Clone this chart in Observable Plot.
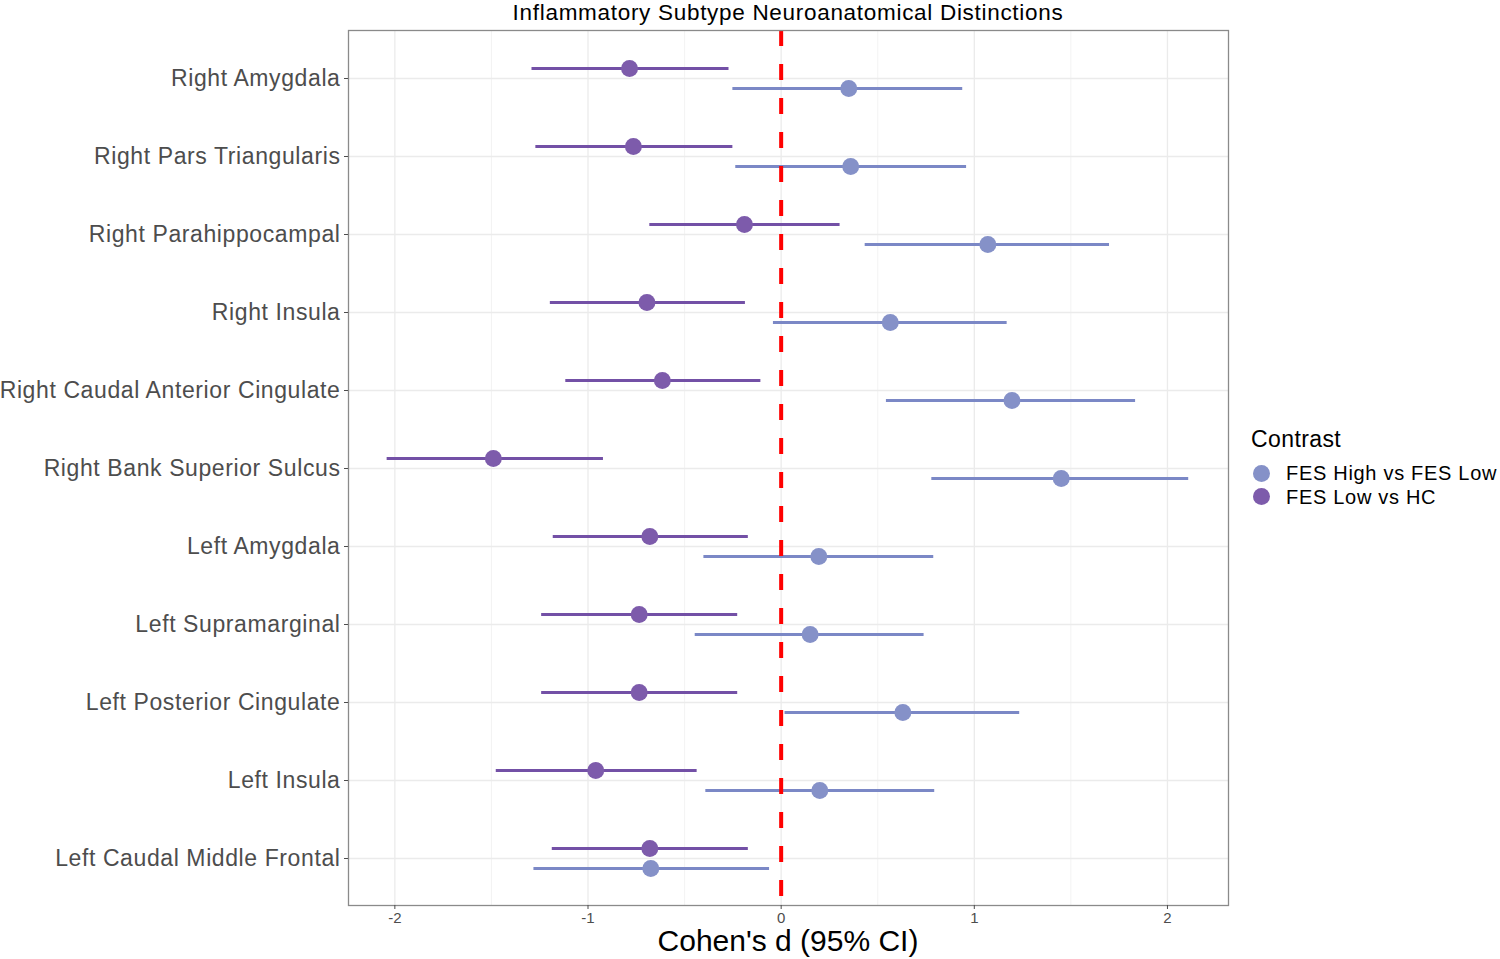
<!DOCTYPE html>
<html>
<head>
<meta charset="utf-8">
<script src="https://cdn.jsdelivr.net/npm/d3@7"></script>
<script src="https://cdn.jsdelivr.net/npm/@observablehq/plot@0.6"></script>
<style>
  html, body { margin: 0; padding: 0; background: #fff; }
  body { font-family: "Liberation Sans", Arial, sans-serif; }
  #wrap { position: relative; width: 1500px; height: 959px; overflow: hidden; }
  .abs { position: absolute; white-space: nowrap; color: #000; }
  #title { left: 348px; width: 880px; top: 1px; text-align: center; font-size: 22.5px; line-height: 23px; letter-spacing: 0.7px; }
  #xtitle { left: 348px; width: 880px; top: 925.5px; text-align: center; font-size: 30px; line-height: 30px; }
  #ltitle { left: 1251px; top: 428px; font-size: 23px; line-height: 23px; letter-spacing: 0.4px; }
  .ltext { left: 1286px; font-size: 20px; line-height: 20px; letter-spacing: 0.7px; }
  .sw { width: 17px; height: 17px; border-radius: 50%; }
</style>
</head>
<body>
<div id="wrap">
  <div id="chart"></div>
  <div id="title" class="abs">Inflammatory Subtype Neuroanatomical Distinctions</div>
  <div id="xtitle" class="abs">Cohen's d (95% CI)</div>
  <div id="ltitle" class="abs">Contrast</div>
</div>
<script>
// Regions, top to bottom
const regions = [
  "Right Amygdala",
  "Right Pars Triangularis",
  "Right Parahippocampal",
  "Right Insula",
  "Right Caudal Anterior Cingulate",
  "Right Bank Superior Sulcus",
  "Left Amygdala",
  "Left Supramarginal",
  "Left Posterior Cingulate",
  "Left Insula",
  "Left Caudal Middle Frontal"
];
const contrasts = ["FES High vs FES Low", "FES Low vs HC"];
const contrastColors = ["#8591c8", "#7d5bab"];
const lineColors = ["#7b88c6", "#7350a6"];

// FES High vs FES Low
const highLowEst = [0.35, 0.36, 1.07, 0.565, 1.195, 1.45, 0.195, 0.15, 0.63, 0.20, -0.675];
const highLowLo  = [-0.25, -0.235, 0.435, -0.04, 0.545, 0.78, -0.40, -0.445, 0.02, -0.39, -1.28];
const highLowHi  = [0.94, 0.96, 1.70, 1.17, 1.835, 2.11, 0.79, 0.74, 1.235, 0.795, -0.06];

// FES Low vs HC
const lowHcEst = [-0.785, -0.765, -0.19, -0.695, -0.615, -1.49, -0.68, -0.735, -0.735, -0.96, -0.68];
const lowHcLo  = [-1.29, -1.27, -0.68, -1.195, -1.115, -2.04, -1.18, -1.24, -1.24, -1.475, -1.185];
const lowHcHi  = [-0.27, -0.25, 0.305, -0.185, -0.105, -0.92, -0.17, -0.225, -0.225, -0.435, -0.17];

const xTicks = [-2, -1, 0, 1, 2];
const xMinor = [-1.5, -0.5, 0.5, 1.5];

const highLow = regions.map((r, i) => ({region: r, contrast: contrasts[0], est: highLowEst[i], lo: highLowLo[i], hi: highLowHi[i]}));
const lowHc = regions.map((r, i) => ({region: r, contrast: contrasts[1], est: lowHcEst[i], lo: lowHcLo[i], hi: lowHcHi[i]}));

const chart = Plot.plot({
  width: 1500,
  height: 959,
  marginLeft: 348,
  marginRight: 272,
  marginTop: 30,
  marginBottom: 54,
  style: {fontFamily: "Liberation Sans, Arial, sans-serif", background: "#fff"},
  x: {domain: [-2.24, 2.316]},
  y: {type: "point", domain: regions, padding: 0.6},
  color: {domain: contrasts, range: contrastColors},
  marks: [
    Plot.ruleX(xMinor, {stroke: "#f3f3f3", strokeWidth: 1}),
    Plot.ruleX(xTicks, {stroke: "#ebebeb", strokeWidth: 1.3}),
    Plot.ruleY(regions, {y: d => d, stroke: "#ebebeb", strokeWidth: 1.3}),
    Plot.ruleY(lowHc, {y: "region", x1: "lo", x2: "hi", stroke: lineColors[1], strokeWidth: 3, dy: -10}),
    Plot.ruleY(highLow, {y: "region", x1: "lo", x2: "hi", stroke: lineColors[0], strokeWidth: 3, dy: 10}),
    Plot.dot(lowHc, {y: "region", x: "est", fill: "contrast", r: 8.5, dy: -10}),
    Plot.dot(highLow, {y: "region", x: "est", fill: "contrast", r: 8.5, dy: 10}),
    Plot.ruleX([0], {stroke: "#ff0000", strokeWidth: 4, strokeDasharray: "16,18"}),
    Plot.frame({stroke: "#8a8a8a", strokeWidth: 1.3}),
    Plot.axisY({tickSize: 4, tickPadding: 4, fontSize: 23, color: "#4d4d4d", label: null}),
    Plot.axisX({ticks: xTicks, tickSize: 4, tickPadding: 3, fontSize: 15, color: "#4d4d4d", label: null, tickFormat: d => String(d)})
  ]
});
document.getElementById("chart").appendChild(chart);
// widen y label glyph spacing slightly to match reference metrics
chart.querySelectorAll("g[aria-label='y-axis tick label'] text").forEach(t => t.style.letterSpacing = "0.6px");

const wrap = document.getElementById("wrap");
const rowCenters = [473.3, 496.7];
contrasts.forEach((c, i) => {
  const sw = document.createElement("div");
  sw.className = "abs sw";
  sw.style.left = (1261.7 - 8.5) + "px";
  sw.style.top = (rowCenters[i] - 8.5) + "px";
  sw.style.background = contrastColors[i];
  wrap.appendChild(sw);
  const tx = document.createElement("div");
  tx.className = "abs ltext";
  tx.style.top = (rowCenters[i] + 6.7 - 16.9) + "px";
  tx.textContent = c;
  wrap.appendChild(tx);
});
</script>
</body>
</html>
